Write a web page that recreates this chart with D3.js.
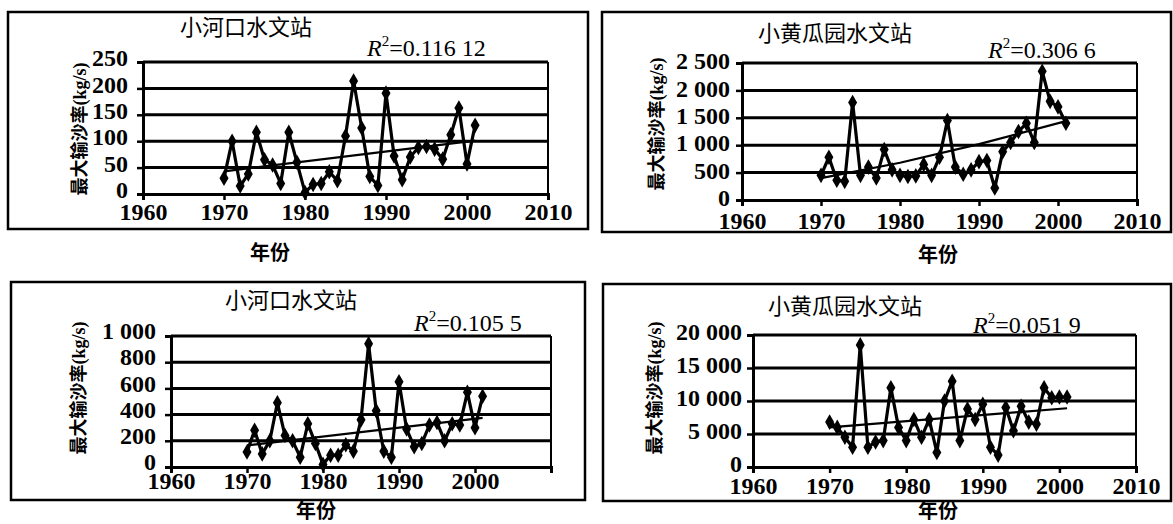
<!DOCTYPE html>
<html><head><meta charset="utf-8">
<script src="https://cdn.jsdelivr.net/npm/d3@7"></script>
<style>body{margin:0;background:#fff}svg{display:block}
.num{font-family:"Liberation Serif","Times New Roman","DejaVu Serif",serif;}
.cjk{font-family:"Noto Sans CJK SC","Noto Sans",sans-serif;}
.ytitle{font-family:"Liberation Serif","Noto Sans CJK SC",serif;}
</style>
</head><body><svg id="c" width="1173" height="524"></svg>
<script>
// ---------------- data ----------------
const years = [1970,1971,1972,1973,1974,1975,1976,1977,1978,1979,1980,1981,1982,1983,1984,1985,
               1986,1987,1988,1989,1990,1991,1992,1993,1994,1995,1996,1997,1998,1999,2000,2001];
// 小河口水文站 (top)
const xhkTop = [30,100,15,38,117,65,55,20,117,60,3,18,20,42,25,110,214,125,33,16,191,72,27,70,88,90,85,66,112,163,57,130];
// 小黄瓜园水文站 (top)
const xhgyTop = [450,780,360,340,1780,450,600,400,920,550,450,430,440,650,450,780,1450,600,470,550,700,720,220,880,1050,1250,1400,1050,2350,1800,1700,1400];
// 小河口水文站 (bottom)
const xhkBottom = [115,280,100,200,490,240,200,75,330,180,20,90,90,170,120,360,940,430,120,75,650,290,155,180,320,340,200,330,320,570,300,540];
// 小黄瓜园水文站 (bottom)
const xhgyBottom = [6800,6000,4500,3000,18500,3000,3800,4000,12000,6000,4000,7200,4500,7200,2200,10000,13000,4000,8800,7200,9500,3000,1800,9000,5500,9200,6800,6500,12000,10500,10600,10600];

// trend lines
const trendYearsA = [1970, 2001];
const xhkTopTrend = [43, 101];
const trendYearsB = [1970, 1980, 1990, 2001];
const xhgyTopTrend = [400, 680, 1020, 1440];
const xhkBottomTrend = [165, 375];
const xhgyBottomTrend = [6000, 8900];

// ticks
const xTicks = [1960,1970,1980,1990,2000,2010];
const xTicksBL = [1960,1970,1980,1990,2000];
const yTicksA = [0,50,100,150,200,250];
const yLabelsA = ["0","50","100","150","200","250"];
const yTicksB = [0,500,1000,1500,2000,2500];
const yLabelsB = ["0","500","1 000","1 500","2 000","2 500"];
const yTicksC = [0,200,400,600,800,1000];
const yLabelsC = ["0","200","400","600","800","1 000"];
const yTicksD = [0,5000,10000,15000,20000];
const yLabelsD = ["0","5 000","10 000","15 000","20 000"];

const titleA = "小河口水文站";
const titleB = "小黄瓜园水文站";
const r2Values = ["0.116 12","0.306 6","0.105 5","0.051 9"];
const yTitle = "最大输沙率(kg/s)";
const xTitle = "年份";

// ---------------- layout ----------------
const panels = [
  {values:xhkTop, tYears:trendYearsA, trend:xhkTopTrend, title:titleA, r2:r2Values[0],
   yTicks:yTicksA, yLabels:yLabelsA, yMax:250, xT:xTicks,
   box:[8,12,588,229], px:[143,548], py:[194,62], lblPad:15, lblDy:-4, xLblBase:26,
   tX:246, tY:35, rX:367, rY:56, ytX:80, ytY:129, xtX:270, xtY:260},
  {values:xhgyTop, tYears:trendYearsB, trend:xhgyTopTrend, title:titleB, r2:r2Values[1],
   yTicks:yTicksB, yLabels:yLabelsB, yMax:2500, xT:xTicks,
   box:[602,12,1171,232], px:[742,1137], py:[200,63], lblPad:12, lblDy:-2, xLblBase:29,
   tX:835, tY:41, rX:988, rY:58, ytX:657, ytY:124, xtX:938, xtY:262},
  {values:xhkBottom, tYears:trendYearsA, trend:xhkBottomTrend, title:titleA, r2:r2Values[2],
   yTicks:yTicksC, yLabels:yLabelsC, yMax:1000, xT:xTicksBL,
   box:[11,282,585,500], px:[171,551], py:[467,336], lblPad:15, lblDy:-5, xLblBase:22,
   tX:291, tY:308, rX:414, rY:331, ytX:79, ytY:388, xtX:316, xtY:518},
  {values:xhgyBottom, tYears:trendYearsA, trend:xhgyBottomTrend, title:titleB, r2:r2Values[3],
   yTicks:yTicksD, yLabels:yLabelsD, yMax:20000, xT:xTicks,
   box:[603,284,1171,501], px:[753,1136], py:[467,335], lblPad:11, lblDy:-3, xLblBase:27,
   tX:845, tY:314, rX:973, rY:333, ytX:655, ytY:388, xtX:938, xtY:518}
];

const svg = d3.select("#c");

panels.forEach(p => {
  const g = svg.append("g");
  const [bx0,by0,bx1,by1] = p.box;
  g.append("rect").attr("x",bx0).attr("y",by0).attr("width",bx1-bx0).attr("height",by1-by0)
    .attr("fill","none").attr("stroke","#000").attr("stroke-width",2.5);

  const x = d3.scaleLinear().domain([1960,2010]).range(p.px);
  const y = d3.scaleLinear().domain([0,p.yMax]).range(p.py);

  // gridlines
  g.selectAll("line.grid").data(p.yTicks.filter(d=>d>0)).join("line")
    .attr("x1",x(1960)).attr("x2",x(2010)).attr("y1",d=>y(d)).attr("y2",d=>y(d))
    .attr("stroke","#000").attr("stroke-width",3);
  // right edge of plot
  g.append("line").attr("x1",x(2010)).attr("x2",x(2010)).attr("y1",y(0)).attr("y2",y(p.yMax))
    .attr("stroke","#000").attr("stroke-width",2);

  // y axis
  const ya = g.append("g").attr("transform",`translate(${x(1960)},0)`)
    .call(d3.axisLeft(y).tickValues(p.yTicks).tickFormat((d,i)=>p.yLabels[i]).tickSize(6).tickPadding(p.lblPad-6));
  ya.attr("font-family",null).attr("font-size",null);
  ya.select(".domain").attr("stroke","#000").attr("stroke-width",3);
  ya.selectAll(".tick line").attr("stroke","#000").attr("stroke-width",2.5);
  ya.selectAll(".tick text").attr("class","num").style("font-size","24px").style("font-weight","bold")
    .attr("fill","#000").attr("dy","0.32em").attr("y",p.lblDy);

  // x axis
  const xa = g.append("g").attr("transform",`translate(0,${y(0)})`)
    .call(d3.axisBottom(x).tickValues(p.xT).tickFormat(d3.format("d")).tickSize(6));
  xa.attr("font-family",null).attr("font-size",null);
  xa.select(".domain").attr("stroke","#000").attr("stroke-width",3);
  xa.selectAll(".tick line").attr("stroke","#000").attr("stroke-width",2.5);
  xa.selectAll(".tick text").attr("class","num").style("font-size","24px").style("font-weight","bold")
    .attr("fill","#000").attr("dy",0).attr("y",p.xLblBase);

  // trend
  const line = d3.line().x(d=>x(d[0])).y(d=>y(d[1]));
  g.append("path").datum(p.tYears.map((yr,i)=>[yr,p.trend[i]]))
    .attr("d",line).attr("fill","none").attr("stroke","#000").attr("stroke-width",2.2);

  // data line
  const pts = years.map((yr,i)=>[yr,p.values[i]]);
  g.append("path").datum(pts).attr("d",line).attr("fill","none")
    .attr("stroke","#000").attr("stroke-width",3.2).attr("stroke-linejoin","round");
  g.selectAll("path.m").data(pts).join("path")
    .attr("transform",d=>`translate(${x(d[0])},${y(d[1])})`)
    .attr("d",d3.symbol(d3.symbolDiamond,70)).attr("fill","#000");

  // title
  g.append("text").attr("class","cjk").attr("x",p.tX).attr("y",p.tY).attr("text-anchor","middle")
    .style("font-size","22px").text(p.title);
  // R2
  const rt = g.append("text").attr("class","num").attr("x",p.rX).attr("y",p.rY)
    .style("font-size","24px").attr("fill","#000");
  rt.append("tspan").style("font-style","italic").text("R");
  rt.append("tspan").style("font-size","15px").attr("dy",-10).text("2");
  rt.append("tspan").attr("dy",10).text("=" + p.r2);
  // y title
  g.append("text").attr("class","ytitle").attr("transform",`translate(${p.ytX},${p.ytY}) rotate(-90)`)
    .attr("text-anchor","middle").attr("dy","0.35em")
    .style("font-weight","bold").style("font-size","18px")
    .text(yTitle);
  // x title
  g.append("text").attr("class","cjk").attr("x",p.xtX).attr("y",p.xtY).attr("text-anchor","middle")
    .style("font-weight","bold").style("font-size","20px").text(xTitle);
});
</script></body></html>
